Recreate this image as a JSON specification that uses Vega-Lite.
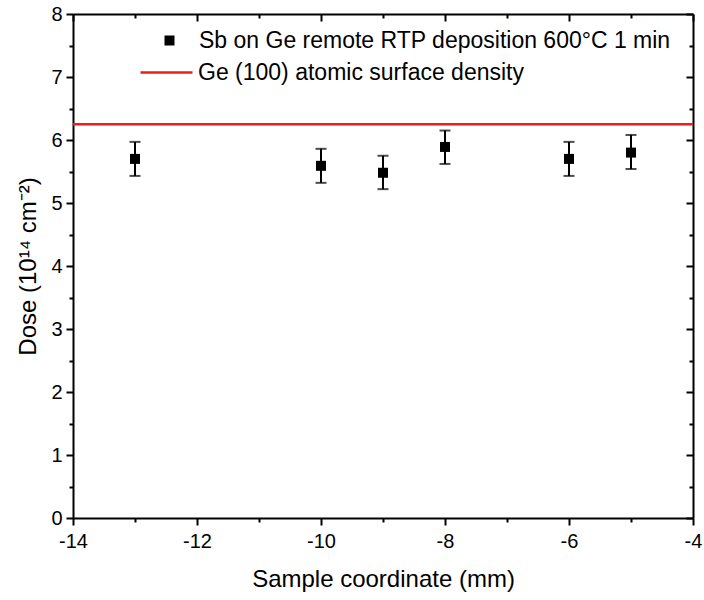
{
  "$schema": "https://vega.github.io/schema/vega-lite/v6.json",
  "width": 620,
  "height": 504,
  "autosize": {"type": "none"},
  "padding": {"left": 73, "top": 14, "right": 11, "bottom": 82},
  "background": "white",
  "config": {
    "view": {"stroke": null},
    "font": "Liberation Sans",
    "axis": {
      "grid": false,
      "domainColor": "black",
      "domainWidth": 2,
      "tickColor": "black",
      "tickWidth": 2,
      "labelColor": "black",
      "labelFont": "Liberation Sans",
      "labelFontSize": 20,
      "titleFont": "Liberation Sans",
      "titleFontSize": 24,
      "titleFontWeight": "normal",
      "titleColor": "black"
    },
    "legend": {
      "labelFont": "Liberation Sans",
      "labelFontSize": 23,
      "labelColor": "black",
      "labelLimit": 0,
      "title": null
    }
  },
  "datasets": {
    "pts": [
      {"x": -13, "dose": 5.70, "lo": 5.43, "hi": 5.97, "series": "Sb on Ge remote RTP deposition 600°C 1 min"},
      {"x": -10, "dose": 5.59, "lo": 5.32, "hi": 5.86, "series": "Sb on Ge remote RTP deposition 600°C 1 min"},
      {"x": -9, "dose": 5.48, "lo": 5.22, "hi": 5.75, "series": "Sb on Ge remote RTP deposition 600°C 1 min"},
      {"x": -8, "dose": 5.89, "lo": 5.62, "hi": 6.15, "series": "Sb on Ge remote RTP deposition 600°C 1 min"},
      {"x": -6, "dose": 5.70, "lo": 5.43, "hi": 5.97, "series": "Sb on Ge remote RTP deposition 600°C 1 min"},
      {"x": -5, "dose": 5.80, "lo": 5.54, "hi": 6.08, "series": "Sb on Ge remote RTP deposition 600°C 1 min"}
    ],
    "ref": [
      {"dose": 6.25, "series": "Ge (100) atomic surface density"}
    ]
  },
  "resolve": {"axis": {"x": "independent", "y": "independent"}},
  "layer": [
    {
      "data": {"name": "pts"},
      "mark": {"type": "point", "shape": "square", "filled": true, "color": "black", "opacity": 1, "size": 100},
      "encoding": {
        "x": {
          "field": "x", "type": "quantitative",
          "scale": {"domain": [-14, -4], "nice": false, "zero": false},
          "axis": {
            "orient": "bottom",
            "title": "Sample coordinate (mm)",
            "values": [-14, -13, -12, -11, -10, -9, -8, -7, -6, -5, -4],
            "labelExpr": "datum.value % 2 === 0 ? '' + datum.value : ''",
            "tickSize": {"condition": {"test": "datum.value % 2 === 0", "value": 7}, "value": 4},
            "labelPadding": 6,
            "titlePadding": 16,
            "labelFlush": false
          }
        },
        "y": {
          "field": "dose", "type": "quantitative",
          "scale": {"domain": [0, 8], "nice": false},
          "axis": {
            "orient": "left",
            "title": "Dose (10¹⁴ cm⁻²)",
            "values": [0, 0.5, 1, 1.5, 2, 2.5, 3, 3.5, 4, 4.5, 5, 5.5, 6, 6.5, 7, 7.5, 8],
            "labelExpr": "datum.value % 1 === 0 ? '' + datum.value : ''",
            "tickSize": {"condition": {"test": "datum.value % 1 === 0", "value": 7}, "value": 4},
            "labelPadding": 4,
            "titlePadding": 10,
            "labelFlush": false
          }
        },
        "shape": {
          "field": "series", "type": "nominal",
          "scale": {"range": ["square"]},
          "legend": {
            "orient": "none", "legendX": 85, "legendY": 15,
            "symbolSize": 100, "symbolFillColor": "black", "symbolStrokeColor": "black",
            "labelOffset": 18
          }
        }
      }
    },
    {
      "data": {"name": "pts"},
      "mark": {"type": "errorbar", "ticks": {"size": 11, "thickness": 2, "color": "black"}, "rule": {"strokeWidth": 2, "color": "black"}},
      "encoding": {
        "x": {"field": "x", "type": "quantitative", "axis": null},
        "y": {"field": "lo", "type": "quantitative", "axis": null},
        "y2": {"field": "hi"}
      }
    },
    {
      "data": {"name": "ref"},
      "mark": {"type": "rule", "strokeWidth": 2.5},
      "encoding": {
        "y": {"field": "dose", "type": "quantitative", "axis": null},
        "stroke": {
          "field": "series", "type": "nominal",
          "scale": {"range": ["#ee1c1c"]},
          "legend": {
            "orient": "none", "legendX": 66, "legendY": 31,
            "symbolType": "stroke", "symbolSize": 2700, "symbolStrokeWidth": 2.5,
            "labelOffset": 4
          }
        }
      }
    },
    {
      "data": {"name": "pts"},
      "mark": {"type": "point", "opacity": 0},
      "encoding": {
        "x": {
          "field": "x", "type": "quantitative",
          "axis": {
            "orient": "top", "title": null, "labels": false,
            "values": [-14, -13, -12, -11, -10, -9, -8, -7, -6, -5, -4],
            "tickSize": {"condition": {"test": "datum.value % 2 === 0", "value": -7}, "value": -4}
          }
        },
        "y": {
          "field": "dose", "type": "quantitative",
          "axis": {
            "orient": "right", "title": null, "labels": false,
            "values": [0, 0.5, 1, 1.5, 2, 2.5, 3, 3.5, 4, 4.5, 5, 5.5, 6, 6.5, 7, 7.5, 8],
            "tickSize": {"condition": {"test": "datum.value % 1 === 0", "value": -7}, "value": -4}
          }
        }
      }
    }
  ]
}
